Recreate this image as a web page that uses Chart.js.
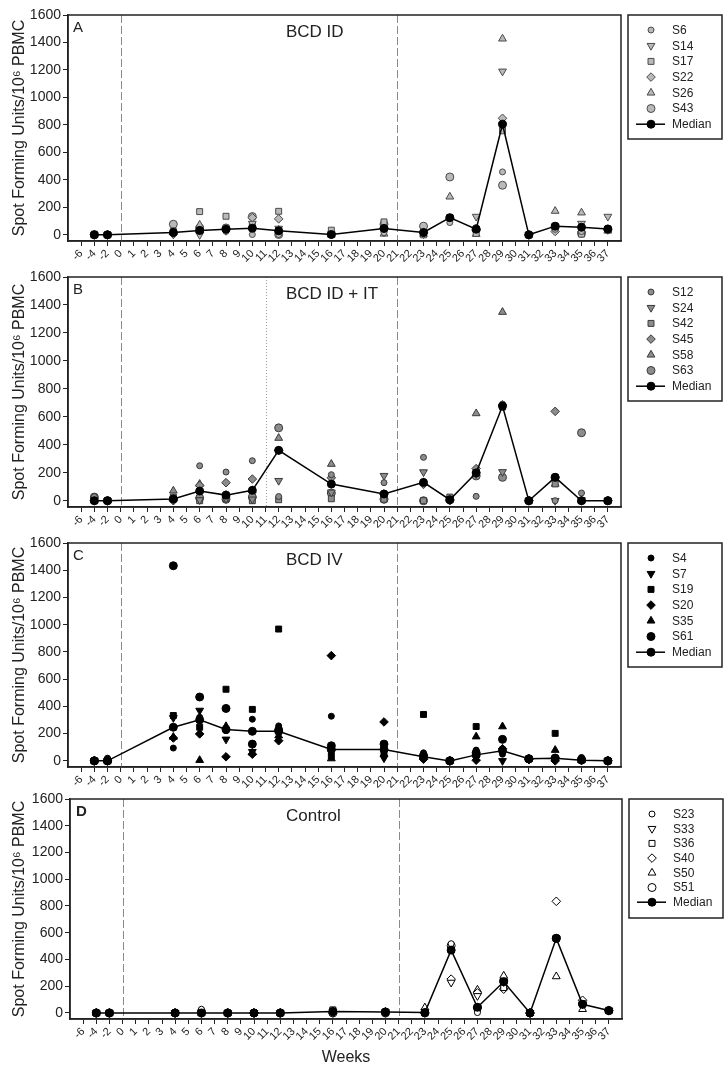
<!DOCTYPE html>
<html>
<head>
<meta charset="utf-8">
<script src="https://cdn.jsdelivr.net/npm/chart.js@4.4.0/dist/chart.umd.min.js"></script>
<style>
  body { margin: 0; background: #fff; }
  #wrap { position: relative; width: 725px; height: 1071px; }
  canvas { position: absolute; left: 0; }
</style>
</head>
<body>
<div id="wrap">
  <canvas id="panelA" width="725" height="267" style="top:0px"></canvas>
  <canvas id="panelB" width="725" height="271" style="top:262px"></canvas>
  <canvas id="panelC" width="725" height="265" style="top:528px"></canvas>
  <canvas id="panelD" width="725" height="285" style="top:784px"></canvas>
</div>
<script>
// x axis tick labels (weeks), evenly spaced
const weekLabels = ['-6', '-4', '-2', '0', '1', '2', '3', '4', '5', '6', '7', '8', '9', '10',
  '11', '12', '13', '14', '15', '16', '17', '18', '19', '20', '21', '22', '23', '24', '25',
  '26', '27', '28', '29', '30', '31', '32', '33', '34', '35', '36', '37'];
const yTicks = [0, 200, 400, 600, 800, 1000, 1200, 1400, 1600];

// weeks where samples were taken
const sampleWeeks = ['-4', '-2', '4', '6', '8', '10', '12', '16', '20', '23', '25', '27', '29', '31', '33', '35', '37'];

// A - BCD ID
const idSubjects = ['S6', 'S14', 'S17', 'S22', 'S26', 'S43'];
const idS6  = [0, 0, 10, 40, 25, 2, 2, 0, 15, 10, 89, 53, 458, 0, 40, 24, 30];
const idS14 = [0, 0, 5, 0, 30, 82, 46, 5, 20, 5, 120, 133, 1190, 0, 60, 82, 133];
const idS17 = [5, 0, 25, 169, 135, 65, 171, 34, 94, 0, 125, 10, 757, 0, 63, 5, 40];
const idS22 = [0, 0, 5, 20, 40, 125, 116, 5, 50, 15, 120, 30, 848, 0, 24, 20, 35];
const idS26 = [0, 0, 20, 72, 45, 70, 35, 0, 7, 5, 277, 5, 1427, 0, 173, 161, 29];
const idS43 = [0, 0, 77, 50, 50, 133, 2, 5, 77, 63, 421, 41, 361, 0, 55, 10, 40];
const idMedian = [0, 0, 17, 31, 40, 48, 29, 2, 46, 17, 125, 41, 805, 0, 63, 55, 43];

// B - BCD ID + IT
const itSubjects = ['S12', 'S24', 'S42', 'S45', 'S58', 'S63'];
const itS12 = [29, 0, 10, 250, 205, 286, 30, 186, 129, 310, 5, 31, 691, 0, 0, 55, 0];
const itS24 = [0, 0, 5, 5, 15, 10, 143, 60, 179, 205, 10, 190, 206, 0, 0, 5, 0];
const itS42 = [0, 0, 26, 0, 17, 0, 7, 14, 10, 0, 26, 199, 670, 0, 120, 0, 0];
const itS45 = [0, 0, 0, 110, 129, 155, 360, 164, 48, 117, 0, 230, 685, 0, 639, 0, 0];
const itS58 = [0, 0, 71, 119, 40, 74, 448, 262, 30, 131, 7, 624, 1349, 0, 120, 0, 0];
const itS63 = [26, 0, 12, 19, 10, 26, 521, 55, 10, 0, 7, 177, 167, 0, 167, 486, 0];
const itMedian = [0, 0, 12, 69, 40, 74, 360, 119, 48, 131, 7, 199, 677, 0, 167, 0, 0];

// C - BCD IV
const ivSubjects = ['S4', 'S7', 'S19', 'S20', 'S35', 'S61'];
const ivS4  = [0, 20, 94, 320, 222, 306, 257, 328, 99, 59, 0, 79, 49, 10, 20, 25, 0];
const ivS7  = [0, 0, 316, 370, 158, 67, 200, 62, 20, 20, 0, 20, 0, 10, 10, 5, 0];
const ivS19 = [0, 0, 333, 247, 526, 378, 968, 37, 60, 341, 0, 252, 80, 15, 202, 10, 0];
const ivS20 = [0, 0, 168, 198, 30, 49, 148, 773, 286, 12, 0, 5, 89, 10, 0, 5, 0];
const ivS35 = [0, 0, 175, 5, 254, 60, 185, 17, 49, 30, 0, 178, 252, 15, 79, 5, 0];
const ivS61 = [0, 0, 1433, 469, 385, 123, 227, 111, 123, 40, 0, 60, 158, 15, 20, 10, 0];
const ivMedian = [0, 0, 247, 301, 230, 217, 217, 84, 84, 30, 0, 44, 74, 15, 20, 5, 0];

// D - Control
const ctlSubjects = ['S23', 'S33', 'S36', 'S40', 'S50', 'S51'];
const ctlS23 = [0, 0, 0, 28, 0, 0, 0, 0, 0, 0, 518, 3, 233, 0, 558, 60, 18];
const ctlS33 = [0, 0, 0, 0, 0, 0, 0, 12, 8, 10, 228, 128, 233, 0, 558, 65, 18];
const ctlS36 = [0, 0, 0, 0, 0, 0, 0, 23, 8, 3, 470, 28, 190, 0, 558, 70, 18];
const ctlS40 = [0, 0, 0, 0, 0, 0, 0, 0, 0, 0, 253, 150, 178, 0, 835, 95, 18];
const ctlS50 = [0, 0, 0, 0, 0, 0, 0, 12, 8, 40, 480, 173, 278, 0, 273, 28, 18];
const ctlS51 = [0, 0, 0, 10, 0, 0, 0, 0, 0, 0, 503, 40, 240, 0, 558, 70, 18];
const ctlMedian = [0, 0, 0, 0, 0, 0, 0, 12, 8, 3, 470, 43, 233, 0, 558, 65, 18];

// blank label at each end so the first/last week sit one step in from the frame
const xLabels = [''].concat(weekLabels, ['']);
const FONT = '"Liberation Sans", Arial, sans-serif';

// same marker order in every panel: circle, down triangle, square, diamond, triangle, hexagon
const markers = [
  { pointStyle: 'circle', radius: 3 },
  { pointStyle: 'triangle', radius: 4.5, rotation: 180 },
  { pointStyle: 'rect', radius: 4.2 },
  { pointStyle: 'rectRot', radius: 4.3 },
  { pointStyle: 'triangle', radius: 4.5, rotation: 0 },
  { pointStyle: 'circle', radius: 4 }
];

function toPoints(values) {
  return sampleWeeks.map((w, i) => ({ x: w, y: values[i] }));
}

const panelPlugin = {
  id: 'panel',
  beforeDatasetsDraw(chart, args, opts) {
    const { ctx, chartArea: a, scales: { x } } = chart;
    ctx.save();
    opts.vlines.forEach(l => {
      const px = Math.round(x.getPixelForValue(xLabels.indexOf(l.week))) + 0.5;
      ctx.strokeStyle = l.color;
      ctx.lineWidth = 1;
      ctx.setLineDash(l.dash);
      ctx.beginPath();
      ctx.moveTo(px, a.top);
      ctx.lineTo(px, a.bottom);
      ctx.stroke();
    });
    ctx.restore();
  },
  afterDraw(chart, args, opts) {
    const { ctx, chartArea: a } = chart;
    ctx.save();
    // frame
    ctx.strokeStyle = '#222';
    ctx.lineWidth = 1.5;
    ctx.strokeRect(a.left, a.top, a.right - a.left, a.bottom - a.top);

    // panel letter and group name
    ctx.fillStyle = '#222';
    ctx.textBaseline = 'middle';
    ctx.textAlign = 'left';
    ctx.font = (opts.letterBold ? 'bold ' : '') + '15px ' + FONT;
    ctx.fillText(opts.letter, a.left + opts.letterDx, a.top + 13);
    ctx.font = '17px ' + FONT;
    ctx.fillText(opts.title, 286, a.top + 17);

    // legend box
    const bx = a.right + 7, by = a.top, bw = 94;
    ctx.lineWidth = 1.5;
    ctx.strokeRect(bx, by, bw, opts.legendHeight);
    chart.data.datasets.forEach((ds, i) => {
      const y = by + 15 + i * opts.rowGap;
      if (ds.showLine) {
        ctx.strokeStyle = '#000';
        ctx.lineWidth = 1.5;
        ctx.beginPath();
        ctx.moveTo(bx + 8, y);
        ctx.lineTo(bx + 37, y);
        ctx.stroke();
      }
      ctx.fillStyle = ds.pointBackgroundColor;
      ctx.strokeStyle = ds.pointBorderColor;
      ctx.lineWidth = 1;
      Chart.helpers.drawPoint(ctx, {
        pointStyle: ds.pointStyle, radius: ds.pointRadius,
        rotation: ds.pointRotation || 0, borderWidth: 1
      }, bx + 23, y);
      ctx.fillStyle = '#222';
      ctx.font = '12px ' + FONT;
      ctx.fillText(ds.label, bx + 44, y + 0.5);
    });
    ctx.restore();
  }
};

function makePanel(id, p) {
  const datasets = p.subjects.map((name, i) => ({
    label: name,
    data: toPoints(p.values[i]),
    showLine: false,
    pointStyle: markers[i].pointStyle,
    pointRadius: markers[i].radius,
    pointRotation: markers[i].rotation || 0,
    pointBackgroundColor: p.fill,
    pointBorderColor: p.edge,
    pointBorderWidth: 1,
    order: 1
  }));
  datasets.push({
    label: 'Median',
    data: toPoints(p.median),
    showLine: true,
    borderColor: '#000',
    borderWidth: 1.5,
    tension: 0,
    pointStyle: 'circle',
    pointRadius: 4,
    pointBackgroundColor: '#000',
    pointBorderColor: '#000',
    pointBorderWidth: 1,
    order: 0
  });

  new Chart(document.getElementById(id), {
    type: 'line',
    data: { labels: xLabels, datasets: datasets },
    plugins: [panelPlugin],
    options: {
      responsive: false,
      animation: false,
      layout: { padding: { top: 15, right: 725 - p.right, left: 0, bottom: 0 } },
      plugins: {
        legend: { display: false },
        tooltip: { enabled: false },
        panel: p.panelOpts
      },
      scales: {
        x: {
          type: 'category',
          offset: false,
          afterFit: s => { s.height = p.xHeight; },
          border: { display: true, color: '#222', width: 1.5 },
          grid: {
            drawOnChartArea: false, drawTicks: true, tickLength: 5,
            tickColor: c => (xLabels[c.index] === '' ? 'rgba(0,0,0,0)' : '#222')
          },
          ticks: {
            autoSkip: false, minRotation: 45, maxRotation: 45, padding: 1,
            color: '#222', font: { family: FONT, size: 11 }
          },
          title: {
            display: !!p.xTitle, text: p.xTitle || '', color: '#222',
            font: { family: FONT, size: 16 }, padding: { top: 2, bottom: 2 }
          }
        },
        y: {
          min: -45,
          max: 1600,
          afterFit: s => { s.width = p.left; },
          afterBuildTicks: s => { s.ticks = yTicks.map(v => ({ value: v })); },
          border: { display: true, color: '#222', width: 1.5 },
          grid: { drawOnChartArea: false, drawTicks: true, tickLength: 5, tickColor: '#222' },
          ticks: {
            padding: 2, color: '#222', font: { family: FONT, size: 14 },
            callback: v => String(v)
          },
          title: {
            display: true, text: 'Spot Forming Units/10\u2076 PBMC', color: '#222',
            font: { family: FONT, size: 16 }, padding: { top: 10, bottom: 4 }
          }
        }
      }
    }
  });
}

const dashed = { color: '#8a8a8a', dash: [8, 3] };

makePanel('panelA', {
  subjects: idSubjects,
  values: [idS6, idS14, idS17, idS22, idS26, idS43],
  median: idMedian,
  fill: '#b9b9b9', edge: '#4a4a4a',
  left: 68, right: 621, xHeight: 26,
  panelOpts: {
    letter: 'A', letterDx: 5, letterBold: false, title: 'BCD ID',
    legendHeight: 124, rowGap: 15.7,
    vlines: [Object.assign({ week: '0' }, dashed), Object.assign({ week: '21' }, dashed)]
  }
});

makePanel('panelB', {
  subjects: itSubjects,
  values: [itS12, itS24, itS42, itS45, itS58, itS63],
  median: itMedian,
  fill: '#8c8c8c', edge: '#3a3a3a',
  left: 68, right: 621, xHeight: 26,
  panelOpts: {
    letter: 'B', letterDx: 5, letterBold: false, title: 'BCD ID + IT',
    legendHeight: 124, rowGap: 15.7,
    vlines: [Object.assign({ week: '0' }, dashed), Object.assign({ week: '21' }, dashed),
      { week: '11', color: '#9a9a9a', dash: [1, 2] }]
  }
});

makePanel('panelC', {
  subjects: ivSubjects,
  values: [ivS4, ivS7, ivS19, ivS20, ivS35, ivS61],
  median: ivMedian,
  fill: '#000', edge: '#000',
  left: 68, right: 621, xHeight: 26,
  panelOpts: {
    letter: 'C', letterDx: 5, letterBold: false, title: 'BCD IV',
    legendHeight: 124, rowGap: 15.7,
    vlines: [Object.assign({ week: '0' }, dashed), Object.assign({ week: '21' }, dashed)]
  }
});

makePanel('panelD', {
  subjects: ctlSubjects,
  values: [ctlS23, ctlS33, ctlS36, ctlS40, ctlS50, ctlS51],
  median: ctlMedian,
  fill: '#fff', edge: '#000',
  left: 70, right: 622, xHeight: 50, xTitle: 'Weeks',
  panelOpts: {
    letter: 'D', letterDx: 6, letterBold: true, title: 'Control',
    legendHeight: 119, rowGap: 14.7,
    vlines: [Object.assign({ week: '0' }, dashed), Object.assign({ week: '21' }, dashed)]
  }
});
</script>
</body>
</html>
